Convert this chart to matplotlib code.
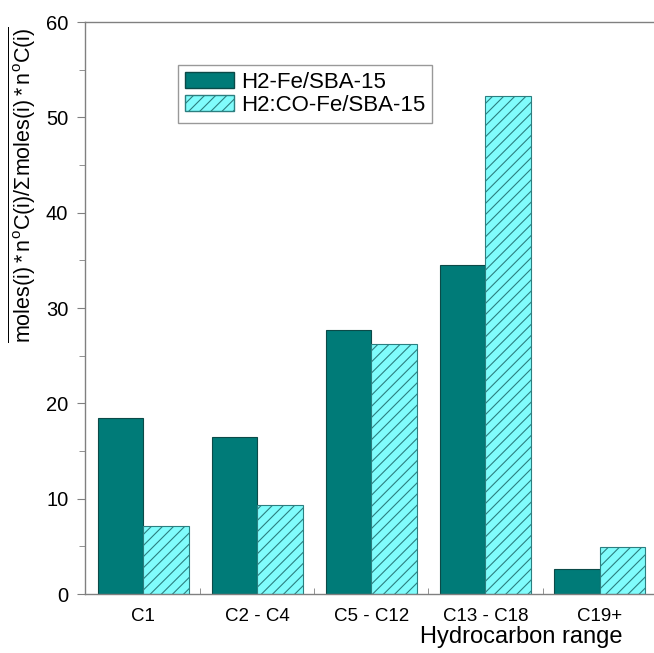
import numpy as np
import matplotlib
matplotlib.use("Agg")
import matplotlib.pyplot as plt
from matplotlib.patches import Patch

# Data
categories = ["C1", "C2 - C4", "C5 - C12", "C13 - C18", "C19+"]
h2_fe = [18.5, 16.5, 27.7, 34.5, 2.6]
h2co_fe = [7.1, 9.3, 26.2, 52.2, 4.9]
series_names = ["H2-Fe/SBA-15", "H2:CO-Fe/SBA-15"]

plt.rcParams["font.family"] = ["Liberation Sans", "DejaVu Sans"]
plt.rcParams["mathtext.fontset"] = "custom"
plt.rcParams["mathtext.rm"] = "Liberation Sans"
plt.rcParams["mathtext.it"] = "Liberation Sans"
plt.rcParams["hatch.linewidth"] = 0.8

dark = "#007b78"
dark_edge = "#0b4a48"
light = "#80fcfc"
hatch_col = "#2c7f80"

fig = plt.figure(figsize=(6.54, 6.53), dpi=100)
# axes run off the right side of the figure like the reference
ax = fig.add_axes([85 / 654, 59 / 653, 583 / 654, 572 / 653])

x = np.arange(len(categories))
w = 0.4
ax.bar(x - w / 2, h2_fe, w, color=dark, edgecolor=dark_edge, linewidth=0.8)
ax.bar(x + w / 2, h2co_fe, w, facecolor=light, edgecolor=hatch_col,
       hatch="///", linewidth=0.8)

ax.set_xlim(-0.51, 4.6)
ax.set_ylim(0, 60)

for side in ["left", "bottom", "top"]:
    ax.spines[side].set_color("#808080")
    ax.spines[side].set_linewidth(1.0)
ax.spines["right"].set_visible(False)

ax.set_yticks(np.arange(0, 61, 10))
ax.set_yticks(np.arange(5, 60, 10), minor=True)
ax.tick_params(axis="y", which="both", direction="out", color="#808080",
               labelsize=14.5, pad=6)
ax.tick_params(axis="y", which="major", length=6)
ax.tick_params(axis="y", which="minor", length=4)

ax.set_xticks(x)
ax.set_xticklabels(categories)
ax.set_xticks(x[:-1] + 0.5, minor=True)
ax.tick_params(axis="x", which="major", length=0, labelsize=13.5, pad=10)
ax.tick_params(axis="x", which="minor", direction="in", length=4,
               color="#808080")

handles = [Patch(facecolor=dark, edgecolor=dark_edge),
           Patch(facecolor=light, edgecolor=hatch_col, hatch="///")]
leg = ax.legend(handles, series_names, loc="upper left",
                bbox_to_anchor=(93 / 583, 1 - 43 / 572), fontsize=16,
                frameon=True, fancybox=False, borderpad=0.3,
                labelspacing=0.1, handlelength=2.2, handletextpad=0.35,
                borderaxespad=0)
leg.get_frame().set_edgecolor("#808080")
leg.get_frame().set_linewidth(1.0)

fig.text(521 / 654, 1 - 637 / 653, "Hydrocarbon range", fontsize=17,
         ha="center", va="center")
fig.text(22 / 654, 1 - 185 / 653,
         r"$\overline{\mathrm{moles(i)*n^oC(i)/\Sigma moles(i)*n^oC(i)}}$",
         rotation=90, fontsize=15.5, ha="center", va="center")

fig.savefig("out.png", dpi=100)
